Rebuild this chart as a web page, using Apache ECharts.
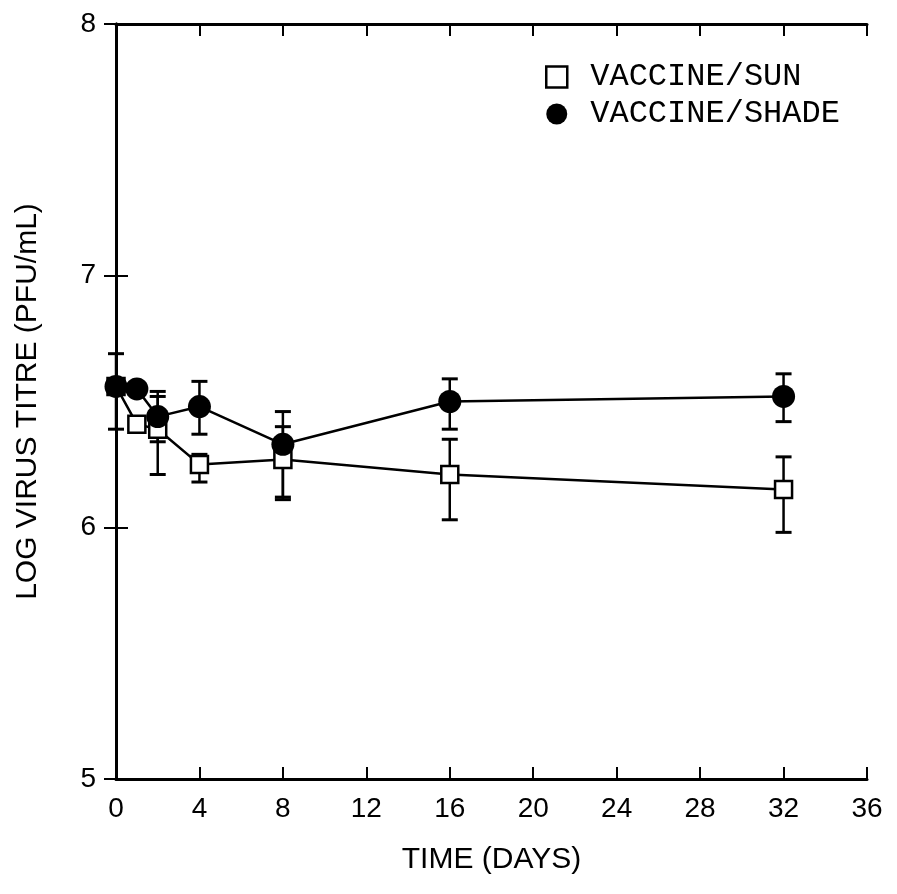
<!DOCTYPE html>
<html><head><meta charset="utf-8">
<script src="https://cdn.jsdelivr.net/npm/echarts@6/dist/echarts.min.js"></script>
<style>html,body{margin:0;padding:0;background:#fff}#c{width:897px;height:894px}</style>
</head><body><div id="c"></div>
<script>
// Time points (days)
const days = [0, 1, 2, 4, 8, 16, 32];
// VACCINE/SUN (open squares)
const sunMean = [6.56, 6.41, 6.39, 6.25, 6.27, 6.21, 6.15];
const sunLow  = [null, null, 6.21, 6.18, 6.11, 6.03, 5.98];
const sunHigh = [null, null, 6.52, 6.29, 6.40, 6.35, 6.28];
// VACCINE/SHADE (filled circles)
const shadeMean = [6.56, 6.55, 6.44, 6.48, 6.33, 6.50, 6.52];
const shadeLow  = [6.39, null, 6.34, 6.37, 6.12, 6.39, 6.42];
const shadeHigh = [6.69, null, 6.54, 6.58, 6.46, 6.59, 6.61];
// Axis ticks
const xTicks = {min: 0, max: 36, interval: 4};
const yTicks = {min: 5, max: 8, interval: 1};

const FONT = 'Liberation Sans';
const chart = echarts.init(document.getElementById('c'), null, {renderer: 'canvas'});

function errSeries(low, high) {
  const data = days.map((d, i) => [d, low[i], high[i]]).filter(r => r[1] != null);
  return {
    type: 'custom', z: 1, silent: true,
    xAxisIndex: 0, yAxisIndex: 0,
    data: data,
    renderItem: function (params, api) {
      const x = api.value(0), lo = api.value(1), hi = api.value(2);
      const a = api.coord([x, hi]), b = api.coord([x, lo]);
      const w = 8;
      const st = {stroke: '#000', lineWidth: 2.5};
      return {type: 'group', children: [
        {type: 'line', shape: {x1: a[0], y1: a[1], x2: b[0], y2: b[1]}, style: st},
        {type: 'line', shape: {x1: a[0] - w, y1: a[1], x2: a[0] + w, y2: a[1]}, style: {stroke: '#000', lineWidth: 3}},
        {type: 'line', shape: {x1: b[0] - w, y1: b[1], x2: b[0] + w, y2: b[1]}, style: {stroke: '#000', lineWidth: 3}}
      ]};
    }
  };
}

const axisLine = {show: true, lineStyle: {color: '#000', width: 3}};
const tickIn = {show: true, inside: true, length: 12, lineStyle: {color: '#000', width: 2}};

chart.setOption({
  animation: false,
  backgroundColor: '#fff',
  grid: {left: 116, right: 30, top: 24, bottom: 115, containLabel: false},
  legend: {
    orient: 'vertical', left: 540, top: 56,
    itemWidth: 21, itemHeight: 21, itemGap: 5,
    textStyle: {fontFamily: 'Liberation Mono', fontSize: 32, color: '#000', lineHeight: 32, padding: [0, 0, 0, 18]},
    data: [
      {name: 'VACCINE/SUN', icon: 'rect', itemStyle: {color: '#fff', borderColor: '#000', borderWidth: 2.5}},
      {name: 'VACCINE/SHADE', icon: 'circle', itemStyle: {color: '#000', borderWidth: 0}}
    ]
  },
  xAxis: [
    {type: 'value', position: 'bottom', min: xTicks.min, max: xTicks.max, interval: xTicks.interval,
     axisLine: axisLine, axisTick: tickIn, splitLine: {show: false},
     axisLabel: {fontFamily: FONT, fontSize: 28, color: '#000', margin: 16},
     name: 'TIME (DAYS)', nameLocation: 'middle', nameGap: 66,
     nameTextStyle: {fontFamily: FONT, fontSize: 30, color: '#000'}},
    {type: 'value', position: 'top', min: xTicks.min, max: xTicks.max, interval: xTicks.interval,
     axisLine: axisLine, axisTick: tickIn, splitLine: {show: false}, axisLabel: {show: false}}
  ],
  yAxis: [
    {type: 'value', position: 'left', min: yTicks.min, max: yTicks.max, interval: yTicks.interval,
     axisLine: axisLine, axisTick: tickIn, splitLine: {show: false},
     axisLabel: {fontFamily: FONT, fontSize: 28, color: '#000', margin: 20},
     name: 'LOG VIRUS TITRE (PFU/mL)', nameLocation: 'middle', nameGap: 73,
     nameTextStyle: {fontFamily: FONT, fontSize: 30, color: '#000'}},
    {type: 'value', position: 'right', min: yTicks.min, max: yTicks.max, interval: yTicks.interval,
     axisLine: axisLine, axisTick: tickIn, splitLine: {show: false}, axisLabel: {show: false}}
  ],
  series: [
    errSeries(sunLow, sunHigh),
    errSeries(shadeLow, shadeHigh),
    {name: 'VACCINE/SUN', type: 'line', z: 3, xAxisIndex: 0, yAxisIndex: 0,
     data: days.map((d, i) => [d, sunMean[i]]),
     symbol: 'rect', symbolSize: 17, showAllSymbol: true,
     itemStyle: {color: '#fff', borderColor: '#000', borderWidth: 2.5},
     lineStyle: {color: '#000', width: 2.5}},
    {name: 'VACCINE/SHADE', type: 'line', z: 4, xAxisIndex: 0, yAxisIndex: 0,
     data: days.map((d, i) => [d, shadeMean[i]]),
     symbol: 'circle', symbolSize: 23, showAllSymbol: true,
     itemStyle: {color: '#000', borderWidth: 0},
     lineStyle: {color: '#000', width: 2.5}}
  ]
});
</script>
</body></html>
